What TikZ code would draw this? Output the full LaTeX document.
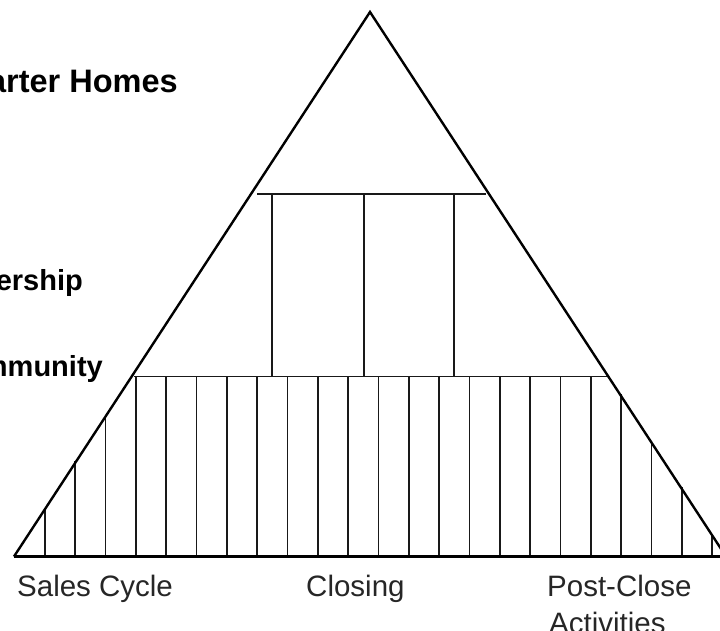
\documentclass[tikz,border=0pt]{standalone}
\usepackage{fontspec}
\setmainfont{Liberation Sans}
\begin{document}
\begin{tikzpicture}[x=1pt,y=-1pt,
  edge/.style={line width=2.4pt,black},
  groundline/.style={line width=3.2pt,black},
  rib/.style={line width=1.7pt,black!90},
  beam/.style={line width=1.7pt,black!90},
  lbl/.style={font=\fontsize{29.5}{34}\selectfont,text=black!85,inner sep=0pt},
  side/.style={font=\bfseries\fontsize{29}{34}\selectfont,inner sep=0pt},
  sidebig/.style={font=\bfseries\fontsize{32.5}{36}\selectfont,inner sep=0pt}]
\useasboundingbox (0,0) rectangle (720,631);

% corners of the triangle
\coordinate (apex) at (370,12);
\coordinate (bl) at (14,556.5);
\coordinate (br) at (726,556.5);

% vertical ribs between the base and the lower beam / the sides
\foreach \i in {0,...,22}{
  \pgfmathsetmacro\xx{45+\i*30.318}
  \pgfmathsetmacro\yl{556.5-(\xx-14)/0.6538}
  \pgfmathsetmacro\yr{556.5-(726-\xx)/0.6538}
  \pgfmathsetmacro\yt{max(376.5,\yl-1.5,\yr-1.5)}
  \draw[rib] (\xx,556.5) -- (\xx,\yt);
}

% lower beam
\coordinate (lbL) at (134,376.5);
\coordinate (lbR) at (607,376.5);
\draw[beam] (lbL) -- (lbR);

% upper beam and its three columns
\coordinate (ubL) at (257,194.3);
\coordinate (ubR) at (486,194.3);
\draw[beam] (ubL) -- (ubR);
\foreach \cx in {272,364,454}{
  \draw[rib] (\cx,194.3) -- (\cx,376.5);
}

% triangle
\draw[edge] (bl) -- (apex) -- (br);
\draw[groundline] (bl) -- (br);

% labels under the base
\node[lbl,anchor=base west] (sales) at (17,596) {Sales Cycle};
\node[lbl,anchor=base west] (closing) at (306,596) {Closing};
\node[lbl,anchor=base west] (post) at (547,596) {Post-Close};
\node[lbl,anchor=base west] (activ) at (549,633) {Activities};

% labels on the left
\node[sidebig,anchor=base east] (homes) at (178,93) {arter Homes};
\node[side,anchor=base east] (frag) at (1.5,205) {s};
\node[side,anchor=base east] (ship) at (83,290) {ership};
\node[side,anchor=base east] (comm) at (103,376) {mmunity};
\end{tikzpicture}
\end{document}
